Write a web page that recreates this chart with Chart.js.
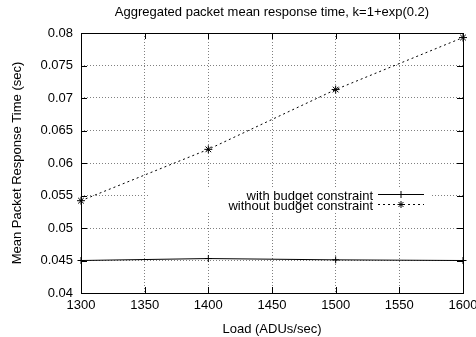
<!DOCTYPE html>
<html>
<head>
<meta charset="utf-8">
<script src="https://cdn.jsdelivr.net/npm/chart.js@4/dist/chart.umd.min.js"></script>
<style>
  html, body { margin: 0; padding: 0; background: #fff; }
  #wrap { width: 476px; height: 337px; }
</style>
</head>
<body>
<div id="wrap"><canvas id="c" width="476" height="337"></canvas></div>
<script>
// data
const loads = [1300, 1400, 1500, 1600];
const withBudget = [0.0450, 0.0453, 0.0451, 0.0450];
const withoutBudget = [0.0542, 0.0621, 0.0713, 0.0793];
const xTicks = [1300, 1350, 1400, 1450, 1500, 1550, 1600];
const yTicks = ['0.04', '0.045', '0.05', '0.055', '0.06', '0.065', '0.07', '0.075', '0.08'];
const chartTitle = 'Aggregated packet mean response time, k=1+exp(0.2)';

const FONT = 'Liberation Sans, Arial, Helvetica, sans-serif';

// title centred over the plot, like gnuplot does
const titlePlugin = {
  id: 'plotTitle',
  afterDraw(chart) {
    const { ctx, chartArea: a } = chart;
    ctx.save();
    ctx.font = '13px ' + FONT;
    ctx.fillStyle = '#000';
    ctx.textAlign = 'center';
    ctx.textBaseline = 'middle';
    ctx.fillText(chartTitle, (a.left + a.right) / 2, 12);
    ctx.restore();
  }
};

// gnuplot style frame: box on all sides + inward ticks
const framePlugin = {
  id: 'frame',
  afterDatasetsDraw(chart) {
    const { ctx, chartArea: a, scales } = chart;
    ctx.save();
    ctx.strokeStyle = '#000';
    ctx.lineWidth = 1;
    ctx.beginPath();
    scales.x.ticks.forEach(t => {
      const x = Math.round(scales.x.getPixelForValue(t.value)) + 0.5;
      ctx.moveTo(x, a.bottom); ctx.lineTo(x, a.bottom - 6);
      ctx.moveTo(x, a.top); ctx.lineTo(x, a.top + 6);
    });
    scales.y.ticks.forEach(t => {
      const y = Math.round(scales.y.getPixelForValue(t.value)) + 0.5;
      ctx.moveTo(a.left, y); ctx.lineTo(a.left + 6, y);
      ctx.moveTo(a.right, y); ctx.lineTo(a.right - 6, y);
    });
    ctx.stroke();
    ctx.strokeRect(Math.round(a.left) + 0.5, Math.round(a.top) + 0.5,
      Math.round(a.right - a.left), Math.round(a.bottom - a.top));
    ctx.restore();
  }
};

// key box, text right aligned then line sample
const keyPlugin = {
  id: 'key',
  afterDatasetsDraw(chart) {
    const { ctx } = chart;
    const textRight = 373, x0 = 378, x1 = 424, baselines = [200, 210];
    ctx.save();
    ctx.fillStyle = '#fff';
    ctx.fillRect(150, 189, 282, 23);
    ctx.font = '13px ' + FONT;
    ctx.textAlign = 'right';
    ctx.textBaseline = 'alphabetic';
    chart.data.datasets.forEach((ds, i) => {
      const y = baselines[i] - 5.5;
      ctx.fillStyle = '#000';
      ctx.fillText(ds.label, textRight, baselines[i]);
      ctx.strokeStyle = '#000';
      ctx.lineWidth = 1;
      ctx.setLineDash(ds.borderDash || []);
      ctx.beginPath();
      ctx.moveTo(x0, y); ctx.lineTo(x1, y);
      ctx.stroke();
      ctx.setLineDash([]);
      const mx = (x0 + x1) / 2, r = 3.5;
      ctx.beginPath();
      ctx.moveTo(mx - r, y); ctx.lineTo(mx + r, y);
      ctx.moveTo(mx, y - r); ctx.lineTo(mx, y + r);
      if (ds.pointStyle === 'star') {
        ctx.moveTo(mx - r * 0.7, y - r * 0.7); ctx.lineTo(mx + r * 0.7, y + r * 0.7);
        ctx.moveTo(mx - r * 0.7, y + r * 0.7); ctx.lineTo(mx + r * 0.7, y - r * 0.7);
      }
      ctx.stroke();
    });
    ctx.restore();
  }
};

new Chart(document.getElementById('c'), {
  type: 'line',
  data: {
    labels: loads,
    datasets: [{
      label: 'with budget constraint',
      data: loads.map((x, i) => ({ x, y: withBudget[i] })),
      borderColor: '#000',
      borderWidth: 1,
      pointStyle: 'cross',
      pointRadius: 3.5,
      pointBorderColor: '#000',
      pointBorderWidth: 1,
      tension: 0
    }, {
      label: 'without budget constraint',
      data: loads.map((x, i) => ({ x, y: withoutBudget[i] })),
      borderColor: '#000',
      borderWidth: 1,
      borderDash: [2, 3],
      pointStyle: 'star',
      pointRadius: 4,
      pointBorderColor: '#000',
      pointBorderWidth: 1,
      tension: 0
    }]
  },
  options: {
    responsive: false,
    animation: false,
    clip: false,
    layout: { padding: { left: 0, right: 13, top: 33, bottom: 0 } },
    plugins: {
      legend: { display: false },
      tooltip: { enabled: false },
      title: { display: false }
    },
    scales: {
      x: {
        type: 'linear',
        min: 1300,
        max: 1600,
        afterBuildTicks: s => { s.ticks = xTicks.map(v => ({ value: v })); },
        afterFit: s => { s.height = 44; s.paddingLeft = 0; s.paddingRight = 0; },
        ticks: {
          color: '#000',
          font: { family: FONT, size: 13 },
          padding: 5,
          maxRotation: 0,
          callback: (v, i) => String(xTicks[i])
        },
        grid: {
          color: '#808080',
          drawTicks: false,
          borderDash: [1, 2]
        },
        border: { display: false, dash: [1, 2] },
        title: {
          display: true,
          text: 'Load (ADUs/sec)',
          color: '#000',
          font: { family: FONT, size: 13 },
          padding: { top: 3, bottom: 0 }
        }
      },
      y: {
        type: 'linear',
        min: 0.04,
        max: 0.08,
        afterBuildTicks: s => { s.ticks = yTicks.map(v => ({ value: parseFloat(v) })); },
        afterFit: s => { s.width = 81; s.paddingTop = 0; s.paddingBottom = 0; },
        ticks: {
          color: '#000',
          font: { family: FONT, size: 13 },
          padding: 8,
          callback: (v, i) => yTicks[i]
        },
        grid: {
          color: '#808080',
          drawTicks: false,
          borderDash: [1, 2]
        },
        border: { display: false, dash: [1, 2] },
        title: {
          display: true,
          text: 'Mean Packet Response Time (sec)',
          color: '#000',
          font: { family: FONT, size: 13 },
          padding: { top: 10, bottom: 0 }
        }
      }
    }
  },
  plugins: [framePlugin, keyPlugin, titlePlugin]
});
</script>
</body>
</html>
